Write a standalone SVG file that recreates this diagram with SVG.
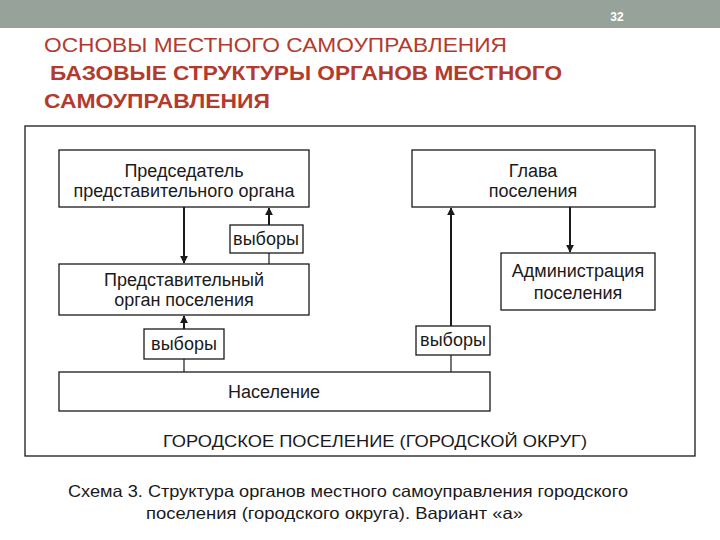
<svg xmlns="http://www.w3.org/2000/svg" width="720" height="540" viewBox="0 0 720 540">
<defs>
<style>
.t{font-family:"Liberation Sans",Arial,sans-serif;fill:#1a1a1a;font-size:18px;text-anchor:middle}
.s{font-family:"Liberation Sans",Arial,sans-serif;fill:#1a1a1a;font-size:16.5px}
.h{font-family:"Liberation Sans",Arial,sans-serif;fill:#b33b2e;font-size:20px}
.b{fill:#fff;stroke:#1a1a1a;stroke-width:1.3}
.c{stroke:#1a1a1a;stroke-width:2;fill:none}
.l{stroke:#1a1a1a;stroke-width:1.2;fill:none}
</style>
<marker id="ar" viewBox="0 0 10 10" refX="9" refY="5" markerWidth="4" markerHeight="4" orient="auto"><path d="M0,0L10,5L0,10z" fill="#1a1a1a"/></marker>
</defs>
<rect x="0" y="0" width="720" height="540" fill="#fff"/>
<rect x="0" y="0" width="720" height="28" fill="#97a39a"/>
<text x="617" y="21" font-family="Liberation Sans,Arial,sans-serif" font-size="12" font-weight="bold" fill="#fff" text-anchor="middle">32</text>
<text class="h" x="44" y="52" textLength="463" lengthAdjust="spacingAndGlyphs">ОСНОВЫ МЕСТНОГО САМОУПРАВЛЕНИЯ</text>
<text class="h" x="50" y="80" font-weight="bold" textLength="512" lengthAdjust="spacingAndGlyphs">БАЗОВЫЕ СТРУКТУРЫ ОРГАНОВ МЕСТНОГО</text>
<text class="h" x="44" y="108" font-weight="bold" textLength="226" lengthAdjust="spacingAndGlyphs">САМОУПРАВЛЕНИЯ</text>
<rect x="25" y="126" width="670" height="330" fill="none" stroke="#1a1a1a" stroke-width="1.3"/>
<g id="connectors">
<line class="c" x1="184" y1="207" x2="184" y2="263" marker-end="url(#ar)"/>
<line class="c" x1="269" y1="225" x2="269" y2="208" marker-end="url(#ar)"/>
<line class="l" x1="269" y1="253" x2="269" y2="264"/>
<line class="c" x1="570" y1="207" x2="570" y2="252" marker-end="url(#ar)"/>
<line class="c" x1="451" y1="326" x2="451" y2="208" marker-end="url(#ar)"/>
<line class="l" x1="451" y1="355" x2="451" y2="372"/>
<line class="c" x1="184" y1="329" x2="184" y2="316" marker-end="url(#ar)"/>
<line class="l" x1="184" y1="359" x2="184" y2="372"/>
</g>
<g id="predsedatel"><rect class="b" x="59" y="150" width="250" height="57"/><text class="t" x="184" y="177">Председатель</text><text class="t" x="184" y="197">представительного органа</text></g>
<g id="glava"><rect class="b" x="412" y="150" width="243" height="57"/><text class="t" x="533" y="177">Глава</text><text class="t" x="533" y="197">поселения</text></g>
<g id="vybory1"><rect class="b" x="230" y="225" width="73" height="28"/><text class="t" x="266" y="245">выборы</text></g>
<g id="predstavitelny"><rect class="b" x="59" y="264" width="250" height="51"/><text class="t" x="184" y="286">Представительный</text><text class="t" x="184" y="306">орган поселения</text></g>
<g id="administracia"><rect class="b" x="501" y="253" width="154" height="57"/><text class="t" x="578" y="277">Администрация</text><text class="t" x="578" y="299">поселения</text></g>
<g id="vybory2"><rect class="b" x="144" y="329" width="80" height="30"/><text class="t" x="184" y="350">выборы</text></g>
<g id="vybory3"><rect class="b" x="416" y="326" width="74" height="29"/><text class="t" x="453" y="346">выборы</text></g>
<g id="naselenie"><rect class="b" x="59" y="372" width="431" height="39"/><text class="t" x="274" y="398">Население</text></g>
<text class="s" x="375" y="447" text-anchor="middle" textLength="424" lengthAdjust="spacingAndGlyphs">ГОРОДСКОЕ ПОСЕЛЕНИЕ (ГОРОДСКОЙ ОКРУГ)</text>
<text class="s" x="68" y="497" textLength="560" lengthAdjust="spacingAndGlyphs">Схема 3. Структура органов местного самоуправления городского</text>
<text class="s" x="146" y="519" textLength="377" lengthAdjust="spacingAndGlyphs">поселения (городского округа). Вариант «а»</text>
</svg>
